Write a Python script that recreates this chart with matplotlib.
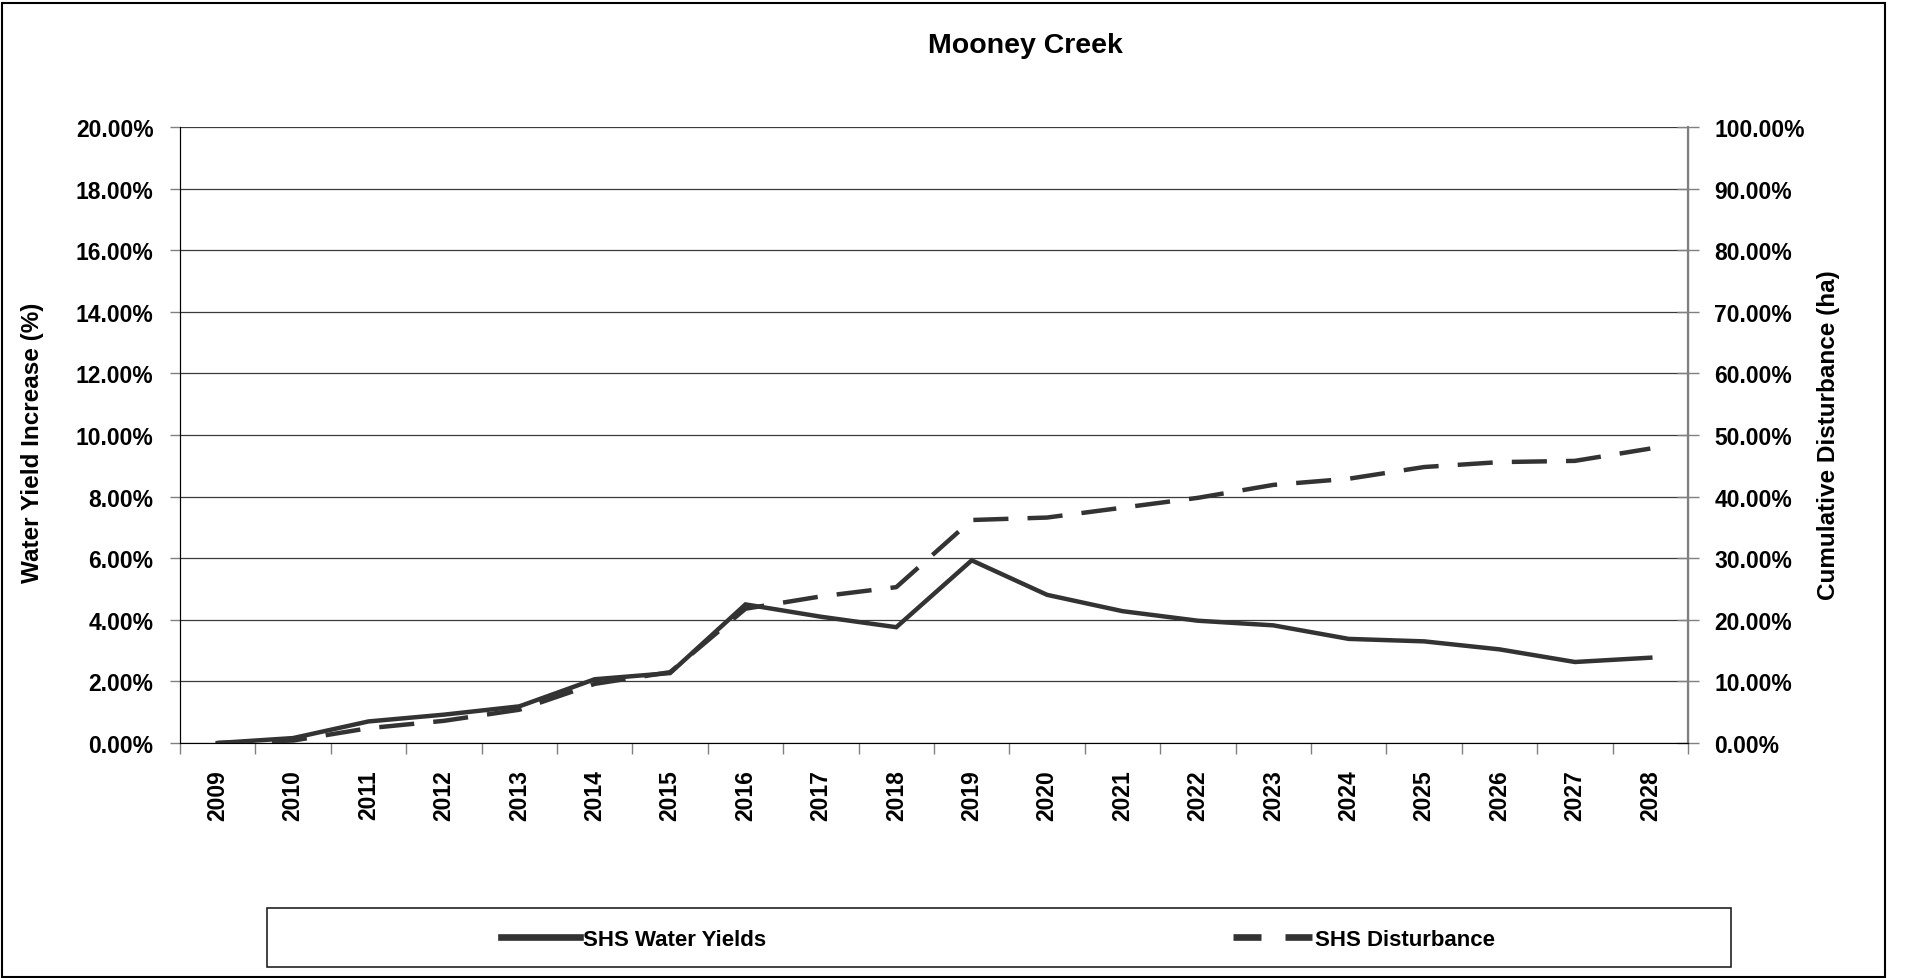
import matplotlib
matplotlib.use('Agg')
import matplotlib.pyplot as plt
from matplotlib.lines import Line2D
from matplotlib.patches import Rectangle
from matplotlib.ticker import FuncFormatter, MultipleLocator
import numpy as np

plt.rcParams['font.family'] = ['Liberation Sans', 'DejaVu Sans']
plt.rcParams['font.weight'] = 'bold'

# data
years = [str(y) for y in range(2009, 2029)]
water_yield = [0.00, 0.16, 0.70, 0.92, 1.19, 2.07, 2.27, 4.50, 4.10, 3.76,
               5.93, 4.81, 4.28, 3.97, 3.82, 3.38, 3.30, 3.04, 2.63, 2.77]   # % (left axis)
disturbance = [0.0, 0.4, 2.4, 3.6, 5.4, 9.6, 11.5, 21.8, 23.8, 25.3,
               36.2, 36.6, 38.2, 39.8, 41.9, 42.9, 44.8, 45.6, 45.8, 47.8]  # % (right axis)

title = 'Mooney Creek'
left_label = 'Water Yield Increase (%)'
right_label = 'Cumulative Disturbance (ha)'
series_names = ['SHS Water Yields', 'SHS Disturbance']

W, H = 1907, 979
fig = plt.figure(figsize=(W / 100, H / 100), dpi=100)
ax = fig.add_axes([180 / W, 1 - 744 / H, (1688 - 180) / W, (744 - 128) / H])
ax2 = ax.twinx()

line_col = '#333333'
x = np.arange(len(years))
ax.plot(x, water_yield, color=line_col, lw=3.2, solid_joinstyle='miter', zorder=3)
ax2.plot(x, disturbance, color=line_col, lw=3.2, ls=(0, (7.9, 4.3)), zorder=3)

ax.set_xlim(-0.5, len(years) - 0.5)
ax.set_ylim(0, 20)
ax2.set_ylim(0, 100)

ax.yaxis.set_major_locator(MultipleLocator(2))
ax2.yaxis.set_major_locator(MultipleLocator(10))
ax.yaxis.set_major_formatter(FuncFormatter(lambda v, p: f'{v:.2f}%'))
ax2.yaxis.set_major_formatter(FuncFormatter(lambda v, p: f'{v:.2f}%'))
ax.grid(axis='y', color='#3a3a3a', lw=0.9)
ax.set_axisbelow(True)

ax.set_xticks(x)
ax.set_xticklabels(years, rotation=90)
ax.set_xticks(np.arange(-0.5, len(years)), minor=True)
ax.tick_params(axis='x', which='major', length=0, pad=19, labelsize=16.5)
ax.tick_params(axis='x', which='minor', length=8, width=1, color='#808080')
ax.tick_params(axis='y', length=7, width=1, pad=12, labelsize=16.5, color='#808080')
ax2.tick_params(axis='y', direction='inout', length=16, width=1, pad=11,
                labelsize=16.5, color='#808080')

ax.spines['top'].set_visible(False)
ax2.spines['top'].set_visible(False)
ax.spines['left'].set_color('black')
ax.spines['bottom'].set_color('#808080')
ax2.spines['right'].set_color('#808080')
ax2.spines['right'].set_linewidth(1.6)
for a in (ax, ax2):
    for lab in a.get_xticklabels() + a.get_yticklabels():
        lab.set_fontweight('bold')

fig.text(1025 / W, 1 - 46 / H, title, ha='center', va='center', fontsize=20.5, fontweight='bold')
fig.text(33 / W, 1 - 443 / H, left_label, ha='center', va='center', rotation=90,
         fontsize=17.5, fontweight='bold')
fig.text(1828 / W, 1 - 435 / H, right_label, ha='center', va='center', rotation=90,
         fontsize=17.5, fontweight='bold')

# outer chart border
fig.add_artist(Rectangle((1.5 / W, 1.5 / H), (1885 - 1.5) / W, (977 - 3) / H,
                         transform=fig.transFigure, fill=False, ec='black', lw=1.5))

# legend box
fig.add_artist(Rectangle((267 / W, 1 - 968 / H), (1731 - 267) / W, (968 - 909) / H,
                         transform=fig.transFigure, fill=False, ec='#222222', lw=1.2))
handles = [Line2D([], [], color=line_col, lw=4.8),
           Line2D([], [], color=line_col, lw=4.8, ls=(0, (4.2, 3.6)))]
fig.legend(handles, series_names, loc='center', bbox_to_anchor=(998 / W, 1 - 940 / H),
           ncol=2, frameon=False, handlelength=3.55, handletextpad=0.15,
           columnspacing=21.0, prop={'size': 16, 'weight': 'bold'})

fig.savefig('out.png', dpi=100)
